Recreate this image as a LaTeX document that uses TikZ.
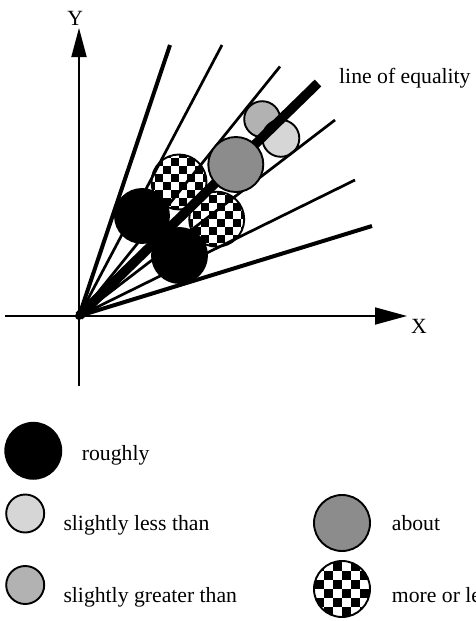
\documentclass[tikz,border=0pt]{standalone}
\usepackage{fontspec}
\setmainfont{Liberation Serif}
\usetikzlibrary{arrows.meta}
\newcommand\checkerfill[1]{%
  \foreach \i in {-4,...,3}{\foreach \j in {-4,-2,0,2}{%
    \fill[black,shift={(path picture bounding box.center)}]
      ({\i*#1},{(\j+mod(\i+4,2))*#1}) rectangle ++(#1,#1);}}}
\begin{document}
\begin{tikzpicture}[x=1pt,y=-1pt,
  every node/.style={font=\fontsize{21.7}{26}\selectfont},
  lbl/.style={anchor=base west,inner sep=0pt},
  disc/.style={circle,draw=black,line width=1.9pt,inner sep=0pt,minimum size=#1},
  blackdisc/.style={disc=#1,fill=black},
  lightdisc/.style={disc=#1,fill=black!16},
  meddisc/.style={disc=#1,fill=black!30},
  aboutdisc/.style={disc=#1,fill=black!45},
  checkdisc/.style 2 args={disc=#1,fill=white,path picture={\checkerfill{#2}}},
  axis/.style={line width=1.8pt},
  ray/.style={line width=2.7pt},
  thickray/.style={line width=4pt},
  eqray/.style={line width=9.5pt}]
\useasboundingbox (0,0) rectangle (475,621);
% axes
\coordinate (O) at (79,316);
\coordinate (xl) at (5,316);
\coordinate (xr) at (407,316);
\coordinate (yb) at (79,386);
\coordinate (yt) at (79,28);
\draw[axis,-{Triangle[length=32pt,width=17pt]}] (xl) -- (xr);
\draw[axis,-{Triangle[length=29pt,width=15pt]}] (yb) -- (yt);
\node[anchor=west,inner sep=0pt] (X) at (411,326) {X};
\node[inner sep=0pt] (Y) at (75.3,18.3) {Y};
% circles below the rays
\node[checkdisc={55pt}{8}] (ck1) at (179,182) {};
\node[checkdisc={55pt}{8}] (ck2) at (216.7,219.2) {};
\node[meddisc=36pt] (sm1) at (262.2,119.2) {};
\node[lightdisc=37pt] (sm2) at (280.8,138.3) {};
% rays
\coordinate (e1) at (170,45);
\coordinate (e2) at (222,45);
\coordinate (e3) at (280,66.5);
\coordinate (eq) at (318,83);
\coordinate (e4) at (335,120);
\coordinate (e5) at (355,180);
\coordinate (e6) at (372,226);
\draw[thickray] (O) -- (e1);
\draw[ray] (O) -- (e2);
\draw[ray] (O) -- (e3);
\draw[ray] (O) -- (e4);
\draw[ray] (O) -- (e5);
\draw[thickray] (O) -- (e6);
\draw[eqray] (O) -- (eq);
\node[lbl] (eqlabel) at (339,83) {line of equality};
% circles above the rays
\node[aboutdisc=55pt] (ab) at (235.8,164.5) {};
\node[blackdisc=54pt] (bk1) at (142,216) {};
\node[blackdisc=55pt] (bk2) at (179.5,255.5) {};
\node[circle,fill=black,inner sep=0pt,minimum size=8pt] (Odot) at (O) {};
% legend
\node[blackdisc=56pt] (lg1) at (33.3,450.8) {};
\node[lbl] (t1) at (81.7,460) {roughly};
\node[lightdisc=38pt] (lg2) at (25.2,513.5) {};
\node[lbl] (t2) at (63.3,530) {slightly less than};
\node[meddisc=38pt] (lg3) at (25.2,585) {};
\node[lbl] (t3) at (63.3,602) {slightly greater than};
\node[aboutdisc=56pt] (lg4) at (342,523) {};
\node[lbl] (t4) at (391.7,530) {about};
\node[checkdisc={56pt}{9}] (lg5) at (342,589) {};
\node[lbl] (t5) at (391.7,602) {more or less};
\end{tikzpicture}
\end{document}
